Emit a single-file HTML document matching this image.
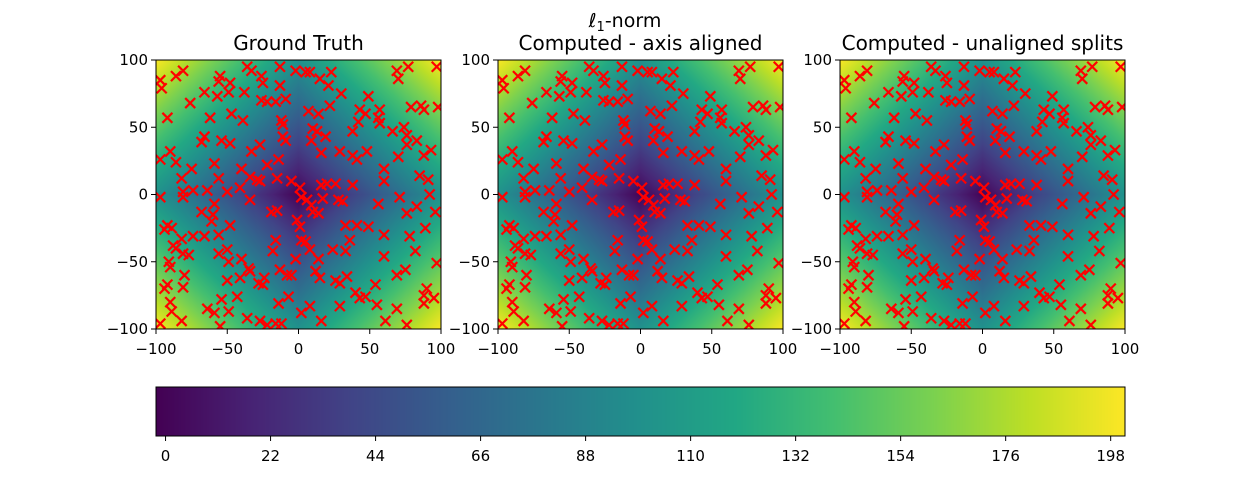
<!DOCTYPE html>
<html><head><meta charset="utf-8">
<style>
body{margin:0;background:#fff;width:1250px;height:500px;overflow:hidden;position:relative;font-family:"DejaVu Sans","Liberation Sans",sans-serif}
canvas{position:absolute}
svg{position:absolute;left:0;top:0}
</style></head>
<body>
<canvas id="h0" width="285" height="269" style="left:156px;top:60px"></canvas>
<canvas id="h1" width="285" height="269" style="left:498px;top:60px"></canvas>
<canvas id="h2" width="285" height="269" style="left:840px;top:60px"></canvas>
<canvas id="cb" width="969" height="49" style="left:156px;top:387px"></canvas>
<svg id="s" width="1250" height="500" xmlns="http://www.w3.org/2000/svg"></svg>
<script>
const xs=[-97,-96,-86,-81,-55,-48,-56,-49,-36,-33,-26,-13,-2,5,8,15,23,21,-13,-25,-38,-66,-57,-76,-92,-62,-47,-39,-26,-22,-16,-9,30,49,22,7,14,-12,-11,10,13,9,19,-11,-9,-66,-68,-54,-48,43,47,42,38,57,56,57,66,74,76,83,76,69,70,77,97,79,86,88,98,-90,-97,-86,-33,-27,-14,-22,-59,-75,-82,-56,-40,-34,-29,-27,-15,-5,1,16,20,26,38,16,29,38,41,48,60,60,70,88,93,85,91,-81,-74,-64,-50,-41,
-97,-81,-34,-59,-68,-60,-61,-48,-19,-15,-1,1,2,6,9,17,28,31,10,14,56,71,92,76,83,96,-92,-94,-89,-82,-74,-66,-56,-88,-86,-81,-77,-56,-50,-49,-40,-35,-34,-16,-18,2,5,8,-2,14,24,33,36,33,41,49,60,78,89,82,60,97,-91,-90,-80,-81,-92,-94,-90,-89,-82,-97,-50,-41,-28,-24,-25,-13,-8,-5,12,15,26,29,34,40,43,47,54,55,69,75,90,88,95,88,69,61,76,29,8,2,-14,-7,-43,-54,-64,-59,-49,-36,-27,-22,-16,-12,16,-55];
const ys=[85,79,88,92,88,83,84,76,95,92,88,95,92,91,91,86,91,81,81,83,76,76,73,68,57,57,60,55,70,69,69,71,75,73,66,62,60,55,52,49,47,40,43,43,40,43,39,40,38,63,60,54,47,63,57,53,47,50,44,40,37,92,86,95,95,65,66,63,65,32,26,24,32,37,26,22,23,19,12,12,19,13,11,10,12,10,5,7,8,8,7,31,32,29,26,32,19,10,28,29,33,14,11,2,3,3,2,5,
-2,-2,-4,-7,-13,-15,-20,-23,-13,-12,-19,-24,-2,-4,-8,-3,-4,-5,-13,-14,-7,-2,0,-14,-9,-13,-23,-26,-25,-33,-31,-31,-30,-38,-40,-44,-45,-44,-41,-50,-48,-55,-57,-34,-42,-34,-35,-41,-48,-48,-41,-42,-34,-23,-23,-24,-30,-31,-25,-42,-46,-51,-50,-54,-60,-69,-67,-70,-80,-87,-94,-96,-64,-62,-66,-62,-67,-56,-60,-60,-57,-62,-64,-66,-61,-73,-77,-76,-67,-82,-60,-56,-70,-75,-77,-81,-85,-94,-97,-83,-83,-88,-81,-76,-76,-78,-85,-88,-87,-92,-94,-97,-96,-96,-94,-98];
const axTicks=[-100,-50,0,50,100];
const cbTicks=[0,22,44,66,88,110,132,154,176,198];
const titles=["Ground Truth","Computed - axis aligned","Computed - unaligned splits"];
const VMIN=-2,VMAX=201;
const panels=[156,498,840],PT=60,PW=285,PH=269;
const stops=["#440154","#482475","#414487","#355f8d","#2a788e","#21918c","#22a884","#44bf70","#7ad151","#bddf26","#fde725"].map(h=>[1,3,5].map(i=>parseInt(h.substr(i,2),16)));
function vir(t){t=Math.max(0,Math.min(1,t));const f=t*10,i=Math.min(9,Math.floor(f)),r=f-i;return stops[i].map((c,k)=>c+(stops[i+1][k]-c)*r);}
function norm(v){return (v-VMIN)/(VMAX-VMIN);}
for(let p=0;p<3;p++){const c=document.getElementById('h'+p).getContext('2d');const im=c.createImageData(PW,PH);
for(let j=0;j<PH;j++)for(let i=0;i<PW;i++){const x=-100+(i+.5)/PW*200,y=100-(j+.5)/PH*200;const col=vir(norm(Math.abs(x)+Math.abs(y)));const o=(j*PW+i)*4;im.data[o]=col[0];im.data[o+1]=col[1];im.data[o+2]=col[2];im.data[o+3]=255;}
c.putImageData(im,0,0);}
{const c=document.getElementById('cb').getContext('2d');for(let i=0;i<969;i++){const v=VMIN+(i+.5)/969*(VMAX-VMIN);const col=vir(norm(v));c.fillStyle=`rgb(${col[0]|0},${col[1]|0},${col[2]|0})`;c.fillRect(i,0,1,49);}}
const S=document.getElementById('s'),NS="http://www.w3.org/2000/svg";
function el(t,a,par){const e=document.createElementNS(NS,t);for(const k in a)e.setAttribute(k,a[k]);(par||S).appendChild(e);return e;}
const defs=el('defs',{});
const sup=el('text',{x:625,y:27,'text-anchor':'middle','font-size':19});


sup.innerHTML='<tspan font-style="italic">ℓ</tspan><tspan font-size="13" dy="4">1</tspan><tspan dy="-4">-norm</tspan>';
panels.forEach((L,p)=>{
 const sx=v=>L+(v+100)/200*PW, sy=v=>PT+(100-v)/200*PH;
 const cp=el('clipPath',{id:'cp'+p},defs);el('rect',{x:L,y:PT,width:PW,height:PH},cp);
 const g=el('g',{'clip-path':'url(#cp'+p+')'});
 
 
 for(let k=0;k<xs.length;k++){const x=sx(xs[k]),y=sy(ys[k]);
  const m=el('path',{d:`M${x-5},${y-5}L${x+5},${y+5}M${x-5},${y+5}L${x+5},${y-5}`,stroke:'#ff0000','stroke-width':2.2,fill:'none'},g);
  
  }
 const fr=el('rect',{x:L,y:PT,width:PW,height:PH,fill:'none',stroke:'#000','stroke-width':1});
 
 
 const t=el('text',{x:L+PW/2,y:50,'text-anchor':'middle','font-size':20});t.textContent=titles[p];
 
 
 axTicks.forEach(v=>{
  el('line',{x1:sx(v),x2:sx(v),y1:PT+PH,y2:PT+PH+5,stroke:'#000'});
  const tx=el('text',{x:sx(v),y:PT+PH+25,'text-anchor':'middle','font-size':15});tx.textContent=v===0?'0':(v<0?'\u2212'+(-v):v);
  
  
  el('line',{x1:L-5,x2:L,y1:sy(v),y2:sy(v),stroke:'#000'});
  const ty=el('text',{x:L-8,y:sy(v)+5,'text-anchor':'end','font-size':15});ty.textContent=v===0?'0':(v<0?'\u2212'+(-v):v);
  
  
 });
});
const cbf=el('rect',{x:156,y:387,width:969,height:49,fill:'none',stroke:'#000'});


cbTicks.forEach(v=>{const x=156+(v-VMIN)/(VMAX-VMIN)*969;
 el('line',{x1:x,x2:x,y1:436,y2:441,stroke:'#000'});
 const t=el('text',{x:x,y:461,'text-anchor':'middle','font-size':15});t.textContent=v;
 
 });
</script>
</body></html>
